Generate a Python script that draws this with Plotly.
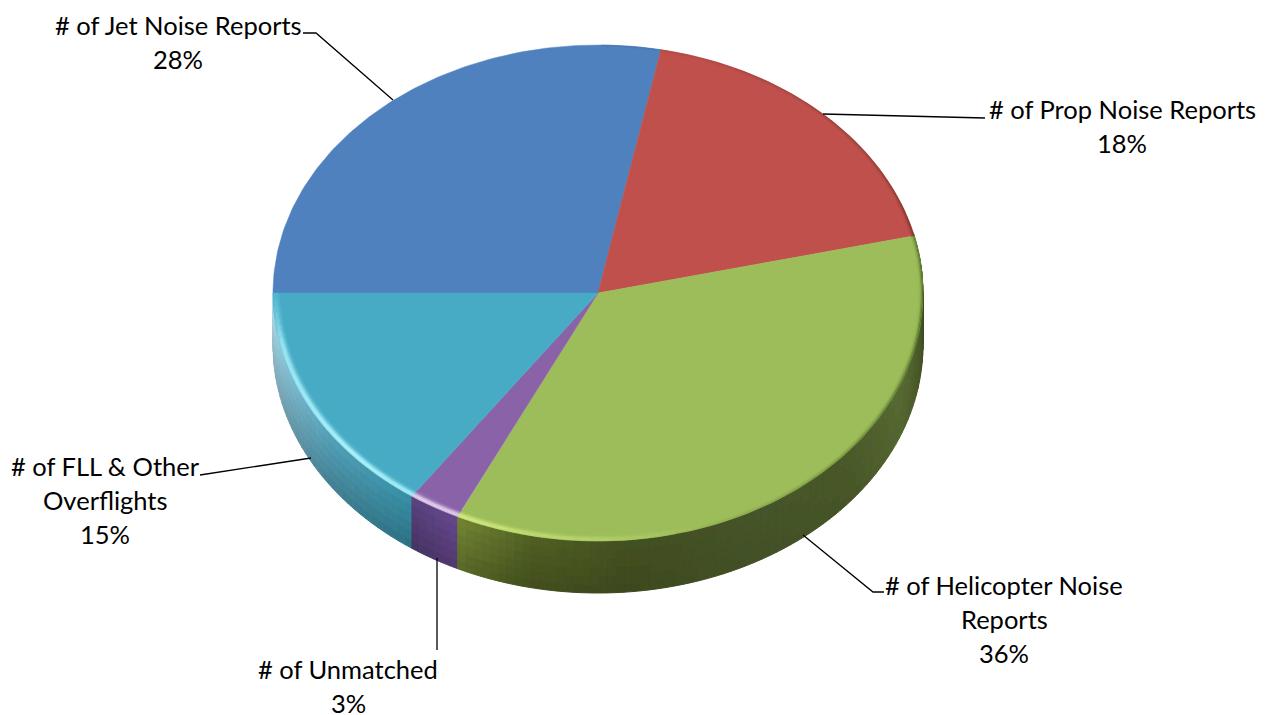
import numpy as np
import plotly.graph_objects as go

# ---- data ----
categories = ["# of Jet Noise Reports", "# of Prop Noise Reports", "# of Helicopter Noise Reports",
              "# of Unmatched", "# of FLL & Other Overflights"]
values = [28.1, 18.2, 35.8, 2.6, 15.3]
top_colors = ["#4f81bf", "#bf504c", "#9cbd5a", "#8a62a8", "#47abc6"]
highlight_colors = ["#4f81bf", "#bf504c", "#e2f58c", "#f3e4f8", "#b5f8ff"]

label_lines = [["# of Jet Noise Reports"], ["# of Prop Noise Reports"],
               ["# of Helicopter Noise", "Reports"], ["# of Unmatched"],
               ["# of FLL & Other", "Overflights"]]
label_x = [178, 1122, 1004, 348, 105]
label_y0 = [25, 109, 585, 669, 466]
LINE_STEP = 34
leaders = [[(303, 33), (316, 33), (393, 100)],
           [(823, 114), (985, 118)],
           [(803, 535), (873, 592), (884, 592)],
           [(437, 558), (437, 650)],
           [(200, 475), (311, 458)]]

# side wall shade keys: (angle clockwise from top, colour)
side_keys = {
    2: [(76, "#39471b"), (90, "#39471b"), (97, "#465526"), (112, "#566832"), (130, "#485727"),
        (150, "#445228"), (175, "#404c1e"), (192, "#495720"), (206, "#67782d")],
    3: [(205, "#5c4080"), (215, "#4f3a6f")],
    4: [(214, "#2f7f93"), (235, "#4a90a5"), (255, "#7cafc0"), (270, "#a4cbd8")],
}

CX, CY, RX, RY, DEPTH = 598, 293, 325, 248, 52
START = 270.0


def px(theta, r=1.0):
    return CX + RX * r * np.sin(np.radians(theta))


def py(theta, r=1.0):
    return CY - RY * r * np.cos(np.radians(theta))


def rgb(h):
    return np.array([int(h[i:i + 2], 16) for i in (1, 3, 5)], float)


def hexs(c, step=3):
    c = (np.clip(c, 0, 255) / step).round() * step
    c = np.clip(c, 0, 255).astype(int)
    return "#%02x%02x%02x" % tuple(c)


def key_color(keys, t):
    a = [k[0] for k in keys]
    cols = np.array([rgb(k[1]) for k in keys])
    return np.array([np.interp(t, a, cols[:, i]) for i in range(3)])


def add_buckets(fig, buckets, width):
    for col, (xs, ys) in sorted(buckets.items()):
        fig.add_trace(go.Scatter(x=xs, y=ys, mode="lines", fill="toself", fillcolor=col,
                                 line=dict(color=col, width=width), hoverinfo="skip", showlegend=False))


def put(buckets, col, xs, ys):
    b = buckets.setdefault(col, ([], []))
    b[0].extend(list(xs) + [None])
    b[1].extend(list(ys) + [None])


shares = np.array(values) / sum(values) * 360
edges = START + np.concatenate([[0], np.cumsum(shares)])
fig = go.Figure()

# side wall
n_layers = 6
depths = np.linspace(0, 1, n_layers + 1)
wall = {}
for i, keys in side_keys.items():
    a0, a1 = edges[i] % 360, edges[i + 1] % 360
    lo, hi = max(a0, 90), min(a1 if a1 > 0 else 360, 270)
    if i == 2:
        lo = 76
    ang = np.linspace(lo, hi, max(2, int((hi - lo) / 1.5) + 1))
    for t0, t1 in zip(ang[:-1], ang[1:]):
        m = (t0 + t1) / 2
        col = key_color(keys, m)
        amp = np.interp(m, [76, 165, 200, 270], [0.05, 0.06, 0.26, 0.22])
        for k in range(n_layers):
            d0, d1 = depths[k] * DEPTH, depths[k + 1] * DEPTH
            f = 1 + amp * (0.5 - (k + 0.5) / n_layers)
            put(wall, hexs(col * f),
                [px(t0), px(t1), px(t1), px(t0), px(t0)],
                [py(t0) + d0, py(t1) + d0, py(t1) + d1, py(t0) + d1, py(t0) + d0])
add_buckets(fig, wall, 1.0)

# top wedges
for i, col in enumerate(top_colors):
    ang = np.linspace(edges[i], edges[i + 1], 120)
    fig.add_trace(go.Scatter(x=[CX, *px(ang), CX], y=[CY, *py(ang), CY], mode="lines", fill="toself",
                             fillcolor=col, line=dict(color=col, width=0.5), hoverinfo="skip", showlegend=False))


def rim_light(t):
    t = t % 360
    return float(np.interp(t, [160, 190, 205, 230, 258, 272], [0, 0.5, 0.85, 1.0, 0.8, 0]))


def rim_dark(t):
    t = t % 360
    return float(np.interp(t, [15, 60, 90, 130, 170], [0.1, 0.35, 0.7, 0.4, 0]))


r_edges = np.linspace(1.0, 0.962, 11)
r_mid = (r_edges[:-1] + r_edges[1:]) / 2
light_prof = np.exp(-((1 - r_mid - 0.007) / 0.011) ** 2)
dark_prof = np.exp(-((1 - r_mid) / 0.007) ** 2)
dark_col = np.array([45, 55, 25.0])
rim = {}
for i in range(5):
    base = rgb(top_colors[i])
    hi = rgb(highlight_colors[i])
    n = max(2, int((edges[i + 1] - edges[i]) / 1.5) + 1)
    ang = np.linspace(edges[i], edges[i + 1], n)
    for t0, t1 in zip(ang[:-1], ang[1:]):
        m = (t0 + t1) / 2
        sl, sd = rim_light(m), rim_dark(m)
        if sl < 0.02 and sd < 0.02:
            continue
        for k in range(len(r_mid)):
            r0, r1 = r_edges[k], r_edges[k + 1]
            c = base + (hi - base) * sl * light_prof[k]
            c = c + (dark_col * base / 150 - c) * sd * dark_prof[k]
            if np.abs(c - base).max() < 2:
                continue
            put(rim, hexs(c), [px(t0, r0), px(t1, r0), px(t1, r1), px(t0, r1), px(t0, r0)],
                [py(t0, r0), py(t1, r0), py(t1, r1), py(t0, r1), py(t0, r0)])
add_buckets(fig, rim, 0.3)

# leader lines
for pts in leaders:
    fig.add_trace(go.Scatter(x=[p[0] for p in pts], y=[p[1] for p in pts], mode="lines",
                             line=dict(color="#000000", width=1.3), hoverinfo="skip", showlegend=False))

# labels
annotations = []
for i, lines in enumerate(label_lines):
    texts = lines + [f"{round(values[i])}%"]
    for j, t in enumerate(texts):
        annotations.append(dict(x=label_x[i], y=label_y0[i] + j * LINE_STEP, text=t, showarrow=False,
                                xanchor="center", yanchor="middle", xref="x", yref="y",
                                font=dict(family="Lato", size=25.5, color="#000000")))

fig.update_layout(width=1270, height=715, margin=dict(l=0, r=0, t=0, b=0), paper_bgcolor="#ffffff",
                  plot_bgcolor="#ffffff", showlegend=False, annotations=annotations,
                  xaxis=dict(range=[0, 1270], visible=False, fixedrange=True),
                  yaxis=dict(range=[715, 0], visible=False, fixedrange=True))
fig.write_html("out.html", config={"displayModeBar": False},
               post_script="document.body.style.margin='0';")
